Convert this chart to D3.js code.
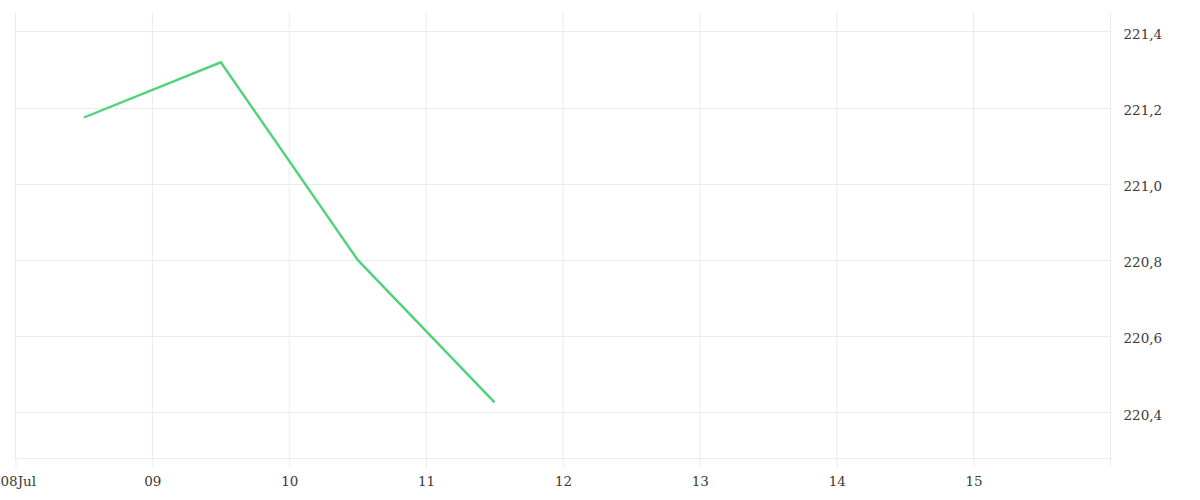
<!DOCTYPE html>
<html>
<head>
	<title>Price</title>
	<script src="https://cdnjs.cloudflare.com/ajax/libs/d3/7.8.5/d3.min.js"></script>
	<style>
		body { margin: 0; background: #fff; }
		.tick text { font-family: "DejaVu Serif", serif; font-size: 13.5px; fill: #3a3a3a; }
		.grid line { stroke: #ebebeb; stroke-width: 1; }
	</style>
</head>
<body>
	<svg id="chart" width="1200" height="500"></svg>
	<script type="text/javascript">
		// data
		const dates = ["2024-07-08T12:00", "2024-07-09T12:00", "2024-07-10T12:00", "2024-07-11T12:00"];
		const values = [221.174, 221.319, 220.8, 220.426];
		const xTickDays = ["2024-07-08", "2024-07-09", "2024-07-10", "2024-07-11", "2024-07-12", "2024-07-13", "2024-07-14", "2024-07-15"];
		const xTickLabels = ["08Jul", "09", "10", "11", "12", "13", "14", "15"];
		const yTicks = [220.4, 220.6, 220.8, 221.0, 221.2, 221.4];

		const parse = d3.timeParse("%Y-%m-%dT%H:%M");
		const parseDay = d3.timeParse("%Y-%m-%d");
		const points = dates.map((d, i) => ({ date: parse(d), value: values[i] }));

		// plot box ("top" is taken by window.top, hence the prefix)
		const plotLeft = 15.5, plotRight = 1110.5, plotTop = 12, plotBottom = 458;
		const svg = d3.select("#chart");

		const x = d3.scaleTime()
			.domain([parseDay("2024-07-08"), parseDay("2024-07-16")])
			.range([plotLeft, plotRight]);
		const y = d3.scaleLinear()
			.domain([220.28, 221.451])
			.range([plotBottom, plotTop]);

		// vertical grid
		svg.append("g").attr("class", "grid")
			.selectAll("line").data(xTickDays.map(parseDay)).join("line")
				.attr("x1", d => x(d)).attr("x2", d => x(d))
				.attr("y1", plotTop).attr("y2", plotBottom);

		// horizontal grid, plus the bottom edge
		svg.append("g").attr("class", "grid")
			.selectAll("line").data(yTicks).join("line")
				.attr("x1", plotLeft).attr("x2", plotRight)
				.attr("y1", d => Math.round(y(d)) + 0.5).attr("y2", d => Math.round(y(d)) + 0.5);
		svg.append("line")
			.attr("x1", plotLeft).attr("x2", plotRight).attr("y1", plotBottom + 0.5).attr("y2", plotBottom + 0.5)
			.attr("stroke", "#ebebeb");

		// x axis
		const xAxis = svg.append("g")
			.attr("transform", `translate(0,${plotBottom})`)
			.call(d3.axisBottom(x)
				.tickValues(xTickDays.map(parseDay))
				.tickFormat((d, i) => xTickLabels[i])
				.tickSize(10).tickPadding(8));
		xAxis.select(".domain").remove();
		xAxis.selectAll(".tick line").attr("stroke", "#ebebeb");
		xAxis.select(".tick text").attr("text-anchor", "start").attr("x", -x.range()[0]);

		// y axis on the right
		const yAxis = svg.append("g")
			.attr("transform", `translate(${plotRight},0)`)
			.call(d3.axisRight(y)
				.tickValues(yTicks)
				.tickFormat(d => d3.format(".1f")(d).replace(".", ","))
				.tickSize(0).tickPadding(13));
		yAxis.select(".domain").attr("stroke", "#ebebeb").attr("d", `M0,${plotTop}V${plotBottom + 8}`);
		yAxis.selectAll(".tick text").attr("dy", "0.5em");

		// the line
		const line = d3.line().x(d => x(d.date)).y(d => y(d.value));
		svg.append("path")
			.datum(points)
			.attr("fill", "none")
			.attr("stroke", "#4fd37a")
			.attr("stroke-width", 2.4)
			.attr("d", line);
	</script>
</body>
</html>
